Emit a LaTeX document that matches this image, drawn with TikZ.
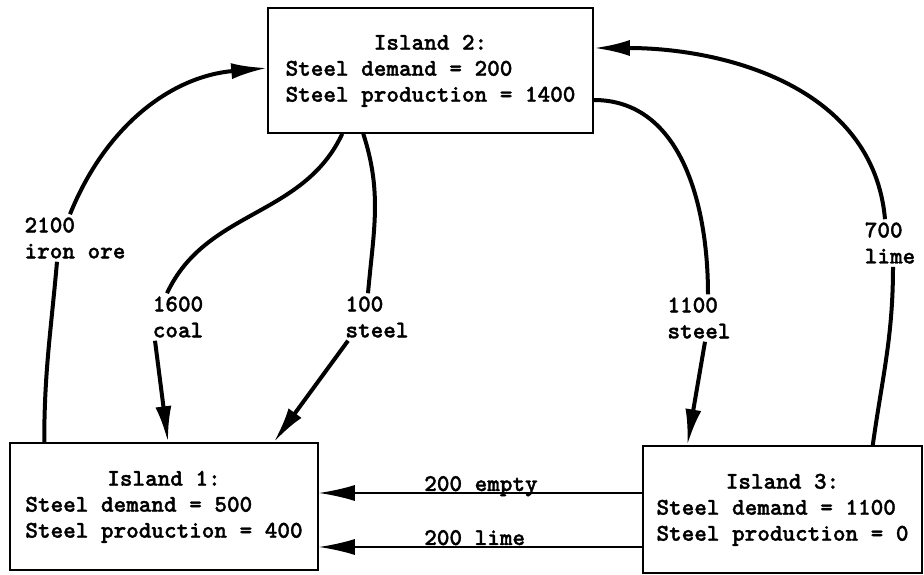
\documentclass[tikz,border=0pt]{standalone}
\usepackage{fontspec}
\newfontfamily\islandtt{lmmonolt10-bold.otf}[FakeBold=1.4]
\usetikzlibrary{arrows.meta}

\newcommand{\islandfont}{\islandtt\fontsize{24}{26}\selectfont}
\newcommand{\islandinfo}[3]{%
  \begin{tabular}{@{}l@{}}
    \multicolumn{1}{@{}c@{}}{Island #1:}\\
    Steel demand = #2\\
    Steel production = #3
  \end{tabular}}

\tikzset{
  island/.style={draw, line width=1.5pt, font=\islandfont, inner sep=0pt},
  cargo/.style={font=\islandfont, align=left, inner sep=3pt},
  flow/.style={line width=4pt},
  ship/.style={line width=2pt},
  tip/.style={-{Latex[length=36pt,width=16pt]}},
}

\begin{document}
\begin{tikzpicture}[x=1pt, y=1pt]
    \useasboundingbox (0,0) rectangle (924,575);

    % islands
    \node[island, minimum width=325pt, minimum height=125pt] (I2) at (430.5,504.5) {\islandinfo{2}{200}{1400}};
    \node[island, minimum width=308pt, minimum height=127pt] (I1) at (164,68.5) {\islandinfo{1}{500}{400}};
    \node[island, minimum width=279pt, minimum height=127pt] (I3) at (782.5,65.5) {\islandinfo{3}{1100}{0}};

    % cargo labels
    \node[cargo] (ore) at (75,337) {2100\\iron ore};
    \node[cargo] (coal) at (178,258) {1600\\coal};
    \node[cargo] (steelA) at (377,258) {100\\steel};
    \node[cargo] (steelB) at (699,257) {1100\\steel};
    \node[cargo] (lime) at (890,332) {700\\lime};

    % island 1 -> island 2
    \draw[flow] ([xshift=35pt]I1.north west) to[out=90,in=-95] ([xshift=-18pt]ore.south);
    \draw[flow,tip] ([xshift=-5pt]ore.north) to[out=68,in=185] ([yshift=2.5pt]I2.west);

    % island 2 -> island 1
    \draw[flow] ([xshift=75pt]I2.south west) to[out=245,in=65] ([xshift=-11pt]coal.north);
    \draw[flow,tip] ([xshift=-23pt]coal.south) -- ([xshift=4pt]I1.north);
    \draw[flow] ([xshift=96pt]I2.south west) to[out=-72,in=85] ([xshift=-9pt]steelA.north);
    \draw[flow,tip] ([xshift=-29pt]steelA.south) -- ([xshift=-45pt]I1.north east);

    % island 2 -> island 3
    \draw[flow] ([yshift=-29.5pt]I2.east) to[out=0,in=90] ([xshift=9pt]steelB.north);
    \draw[flow,tip] ([xshift=6pt]steelB.south) -- ([xshift=45pt]I3.north west);

    % island 3 -> island 2
    \draw[flow] ([xshift=-50pt]I3.north east) to[out=82,in=-90] ([xshift=3pt]lime.south);
    \draw[flow,tip] ([xshift=-5pt]lime.north) to[out=95,in=0] ([yshift=22.5pt]I2.east);

    % island 3 -> island 1
    \draw[ship,tip] ([yshift=16.5pt]I3.west) -- ([yshift=16.5pt]I3.west -| I1.east)
        node[pos=0.68, anchor=base west, yshift=2pt, font=\islandfont, inner sep=1pt] (empty) {200 empty};
    \draw[ship,tip] ([yshift=-37.5pt]I3.west) -- ([yshift=-37.5pt]I3.west -| I1.east)
        node[pos=0.68, anchor=base west, yshift=2pt, font=\islandfont, inner sep=1pt] (limeB) {200 lime};
\end{tikzpicture}
\end{document}
